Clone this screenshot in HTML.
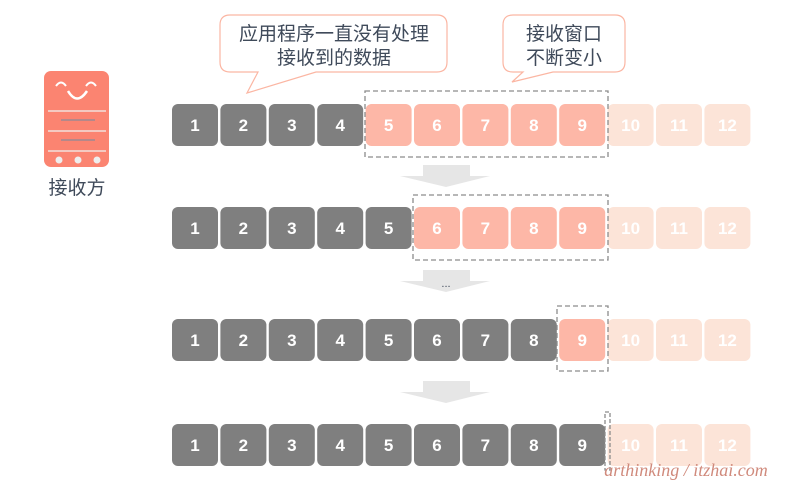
<!DOCTYPE html>
<html><head><meta charset="utf-8"><style>
html,body{margin:0;padding:0;background:#fff;}
svg{display:block;}
text{font-family:"Liberation Sans","Noto Sans CJK SC",sans-serif;}
.n{font-size:17px;fill:#fff;text-anchor:middle;font-weight:bold;}
.c{font-size:19px;fill:#3f4a5a;text-anchor:middle;font-family:"Liberation Sans","Noto Sans CJK SC",sans-serif;}
</style></head><body>
<svg width="800" height="490" viewBox="0 0 800 490" xmlns="http://www.w3.org/2000/svg">
<defs>
<g id="ar"><path d="M23 0 H70 V11 H90 L46 22 L0 11 H23 Z" fill="#e6e6e6"/></g>
</defs>
<path d="M230 15 H437 Q447 15 447 25 V62 Q447 72 437 72 H316 L247 93 L258 72 H230 Q220 72 220 62 V25 Q220 15 230 15 Z" fill="#fff" stroke="#fbb6a3" stroke-width="1.2"/>
<text class="c" x="334" y="40">应用程序一直没有处理</text>
<text class="c" x="334" y="64">接收到的数据</text>
<path d="M513 15 H615 Q625 15 625 25 V62 Q625 72 615 72 H553 L512 82 L523 72 H513 Q503 72 503 62 V25 Q503 15 513 15 Z" fill="#fff" stroke="#fbb6a3" stroke-width="1.2"/>
<text class="c" x="564" y="40">接收窗口</text>
<text class="c" x="564" y="64">不断变小</text>
<rect x="44" y="71" width="65" height="96" rx="7" fill="#fb8471"/>
<path d="M56 86 Q61 79 66 86 M86 86 Q91 79 96 86" stroke="#fff" stroke-width="2" fill="none"/>
<path d="M68 91 Q77 106 87 91" stroke="#fff" stroke-width="2.5" fill="none"/>
<line x1="48" y1="111" x2="106" y2="111" stroke="#f2e0dc" stroke-width="1.5"/>
<line x1="61" y1="120" x2="95" y2="120" stroke="#8a8a99" stroke-width="1.2"/>
<line x1="48" y1="131" x2="106" y2="131" stroke="#f2e0dc" stroke-width="1.5"/>
<line x1="61" y1="140" x2="95" y2="140" stroke="#8a8a99" stroke-width="1.2"/>
<line x1="48" y1="151" x2="106" y2="151" stroke="#f2e0dc" stroke-width="1.5"/>
<circle cx="59" cy="160" r="3.5" fill="#eee"/><circle cx="78" cy="160" r="3.5" fill="#eee"/><circle cx="97" cy="160" r="3.5" fill="#eee"/>
<text x="77" y="194" style="font-size:19px;fill:#3f4a5a;text-anchor:middle">接收方</text>
<use href="#ar" x="400" y="165"/>
<use href="#ar" x="400" y="270"/>
<text x="446" y="287" style="font-size:11px;fill:#3f4a5a;text-anchor:middle">...</text>
<use href="#ar" x="400" y="381"/>
<g id="rows"></g>
<rect x="365" y="91" width="243" height="66" fill="none" stroke="#8c8c8c" stroke-width="1.3" stroke-dasharray="5,3"/>
<rect x="413" y="195" width="195" height="65" fill="none" stroke="#8c8c8c" stroke-width="1.3" stroke-dasharray="5,3"/>
<rect x="557" y="306" width="51" height="65" fill="none" stroke="#8c8c8c" stroke-width="1.3" stroke-dasharray="5,3"/>
<rect x="605" y="412" width="5" height="58" fill="none" stroke="#8c8c8c" stroke-width="1.3" stroke-dasharray="4,2"/>
<text x="686" y="476" style="font-size:18px;fill:#d08a7c;text-anchor:middle;font-family:'Liberation Serif',serif;font-style:italic">arthinking / itzhai.com</text>
</svg>
<script>
var ys=[104,207,319,424];
var wins=[[5,9],[6,9],[9,9],[0,-1]];
var g=document.getElementById('rows'),s='';
for(var r=0;r<4;r++){for(var i=0;i<12;i++){var n=i+1,x=172+i*48.4,c;
if(n>=10)c='#fce4d8';else if(n>=wins[r][0]&&n<=wins[r][1])c='#fdb7a7';else c='#7f7f7f';
s+='<rect x="'+x.toFixed(1)+'" y="'+ys[r]+'" width="46" height="42" rx="6" fill="'+c+'"/>';
s+='<text class="n" x="'+(x+23).toFixed(1)+'" y="'+(ys[r]+27)+'">'+n+'</text>';}}
g.innerHTML=s;
</script>
</body></html>
